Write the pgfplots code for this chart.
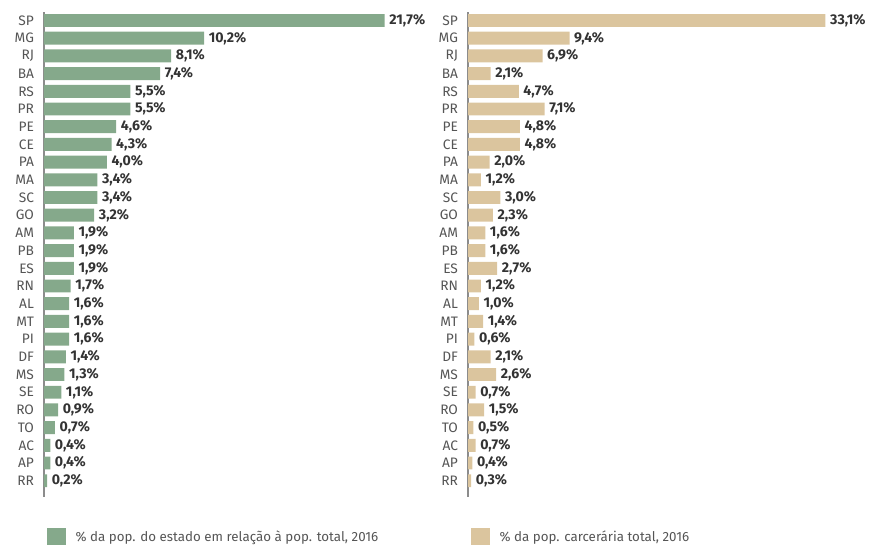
\documentclass[border=0pt]{standalone}
\usepackage{fontspec}
\setmainfont{Fira Sans}
\usepackage{pgfplots}
\usepackage{pgfplotstable}
\pgfplotsset{compat=1.18}

\definecolor{popgreen}{HTML}{85A98B}
\definecolor{prisbeige}{HTML}{DBC59E}
\definecolor{labelgray}{HTML}{555555}
\definecolor{valdark}{HTML}{333333}
\definecolor{axgray}{HTML}{8C8C8C}

% share of total population vs share of prison population, 2016
\pgfplotstableread{
uf pop pris
SP 21.7 33.1
MG 10.2 9.4
RJ 8.1 6.9
BA 7.4 2.1
RS 5.5 4.7
PR 5.5 7.1
PE 4.6 4.8
CE 4.3 4.8
PA 4.0 2.0
MA 3.4 1.2
SC 3.4 3.0
GO 3.2 2.3
AM 1.9 1.6
PB 1.9 1.6
ES 1.9 2.7
RN 1.7 1.2
AL 1.6 1.0
MT 1.6 1.4
PI 1.6 0.6
DF 1.4 2.1
MS 1.3 2.6
SE 1.1 0.7
RO 0.9 1.5
TO 0.7 0.5
AC 0.4 0.7
AP 0.4 0.4
RR 0.2 0.3
}\ufdata

\pgfplotsset{
  ufbars/.style={
    scale only axis, height=363.75pt,
    xmin=0, ymin=-0.48, ymax=26.92, y dir=reverse,
    xbar, bar width=0.73,
    axis x line=none, axis y line*=left,
    y axis line style={axgray, line width=1pt},
    ytick={0,...,26}, yticklabels from table={\ufdata}{uf},
    major tick length=0pt,
    yticklabel style={font=\fontsize{10.3}{12}\selectfont, text=labelgray, xshift=-4pt},
    point meta=x,
    nodes near coords={\pgfmathprintnumber[fixed,fixed zerofill,precision=1,use comma,assume math mode=true]{\pgfplotspointmeta}\%},
    nodes near coords style={font=\fontsize{10.6}{12}\selectfont\bfseries, text=valdark},
    clip=false,
    legend style={draw=none, fill=none, at={(0,0)}, anchor=west,
      xshift=2.25pt, yshift=-30pt, inner sep=0pt,
      font=\fontsize{10}{12}\selectfont, text=labelgray,
      nodes={inner sep=0pt},
      /tikz/every odd column/.append style={column sep=7.5pt}},
  },
}

\begin{document}
\begin{tikzpicture}
\path[use as bounding box] (-33pt,-36pt) rectangle (621pt,372.75pt);

\begin{axis}[ufbars, at={(0pt,0pt)}, anchor=south west,
  width=267.3pt, xmax=22.7]
\addplot[draw=none, fill=popgreen,
  legend image code/.code={\fill[popgreen] (0pt,-6.6pt) rectangle (13.8pt,6.6pt);}]
  table[x=pop, y expr=\coordindex] {\ufdata};
\addlegendentry{\% da pop. do estado em relação à pop. total, 2016}
\end{axis}

\begin{axis}[ufbars, at={(318pt,0pt)}, anchor=south west,
  width=269.7pt, xmax=33.3]
\addplot[draw=none, fill=prisbeige,
  legend image code/.code={\fill[prisbeige] (0pt,-6.6pt) rectangle (13.8pt,6.6pt);}]
  table[x=pris, y expr=\coordindex] {\ufdata};
\addlegendentry{\% da pop. carcerária total, 2016}
\end{axis}
\end{tikzpicture}
\end{document}
